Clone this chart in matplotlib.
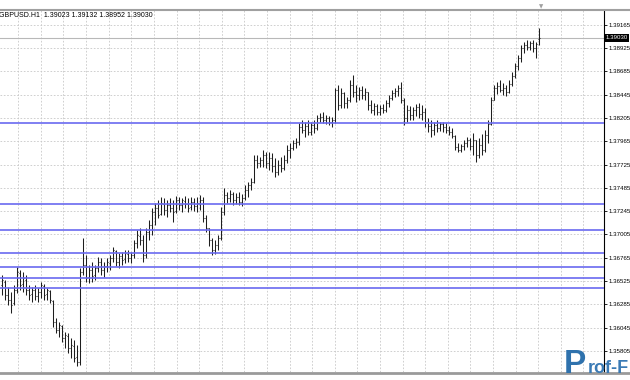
import numpy as np
import matplotlib.pyplot as plt
from matplotlib.lines import Line2D
from matplotlib.transforms import blended_transform_factory

plt.rcParams['font.family'] = ['Liberation Sans', 'DejaVu Sans']

symbol = 'GBPUSD.H1'

# hourly bars
opens = [1.36484, 1.36515, 1.36381, 1.36330, 1.36299, 1.36433, 1.36608, 1.36495, 1.36536, 1.36433,
         1.36392, 1.36433, 1.36371, 1.36412, 1.36474, 1.36392, 1.36423, 1.36320, 1.36103, 1.36021,
         1.36062, 1.35939, 1.35959, 1.35836, 1.35856, 1.35743, 1.35691, 1.36618, 1.36690, 1.36567,
         1.36639, 1.36587, 1.36660, 1.36721, 1.36639, 1.36680, 1.36711, 1.36763, 1.36835, 1.36721,
         1.36783, 1.36752, 1.36804, 1.36763, 1.36793, 1.36917, 1.36989, 1.36948, 1.36793, 1.37030,
         1.37103, 1.37236, 1.37278, 1.37216, 1.37319, 1.37257, 1.37308, 1.37278, 1.37247, 1.37360,
         1.37308, 1.37350, 1.37319, 1.37288, 1.37339, 1.37298, 1.37329, 1.37360, 1.37175, 1.37072,
         1.36948, 1.36845, 1.36896, 1.36969, 1.37236, 1.37411, 1.37381, 1.37422, 1.37360, 1.37391,
         1.37339, 1.37381, 1.37463, 1.37514, 1.37545, 1.37772, 1.37741, 1.37772, 1.37823, 1.37741,
         1.37793, 1.37710, 1.37648, 1.37720, 1.37689, 1.37772, 1.37875, 1.37896, 1.37947, 1.37957,
         1.38112, 1.38081, 1.38122, 1.38060, 1.38132, 1.38102, 1.38205, 1.38215, 1.38184, 1.38205,
         1.38163, 1.38184, 1.38493, 1.38338, 1.38462, 1.38359, 1.38390, 1.38544, 1.38472, 1.38441,
         1.38493, 1.38441, 1.38472, 1.38338, 1.38287, 1.38328, 1.38266, 1.38308, 1.38287, 1.38359,
         1.38411, 1.38462, 1.38483, 1.38514, 1.38390, 1.38205, 1.38287, 1.38235, 1.38287, 1.38318,
         1.38246, 1.38266, 1.38163, 1.38122, 1.38081, 1.38132, 1.38102, 1.38143, 1.38112, 1.38081,
         1.38060, 1.38019, 1.37906, 1.37875, 1.37916, 1.37947, 1.37978, 1.37916, 1.37978, 1.37823,
         1.37927, 1.37875, 1.38029, 1.38143, 1.38390, 1.38514, 1.38534, 1.38493, 1.38514, 1.38472,
         1.38555, 1.38637, 1.38740, 1.38823, 1.38926, 1.38956, 1.38936, 1.38977, 1.38926, 1.39023]

highs = [1.36587, 1.36536, 1.36464, 1.36412, 1.36484, 1.36670, 1.36639, 1.36618, 1.36587, 1.36484,
         1.36464, 1.36484, 1.36454, 1.36515, 1.36495, 1.36454, 1.36433, 1.36330, 1.36144, 1.36103,
         1.36072, 1.36000, 1.35990, 1.35939, 1.35918, 1.35866, 1.36660, 1.36969, 1.36793, 1.36690,
         1.36721, 1.36690, 1.36773, 1.36763, 1.36721, 1.36763, 1.36793, 1.36876, 1.36845, 1.36814,
         1.36824, 1.36845, 1.36845, 1.36824, 1.36948, 1.37051, 1.37072, 1.36999, 1.37072, 1.37154,
         1.37278, 1.37329, 1.37360, 1.37391, 1.37381, 1.37360, 1.37381, 1.37360, 1.37401, 1.37391,
         1.37381, 1.37401, 1.37381, 1.37391, 1.37381, 1.37391, 1.37411, 1.37391, 1.37205, 1.37072,
         1.36969, 1.36948, 1.36999, 1.37288, 1.37484, 1.37442, 1.37463, 1.37442, 1.37432, 1.37442,
         1.37422, 1.37514, 1.37545, 1.37586, 1.37823, 1.37823, 1.37803, 1.37875, 1.37854, 1.37854,
         1.37844, 1.37793, 1.37772, 1.37803, 1.37823, 1.37927, 1.37947, 1.37978, 1.37999, 1.38153,
         1.38184, 1.38163, 1.38184, 1.38163, 1.38184, 1.38235, 1.38256, 1.38266, 1.38235, 1.38225,
         1.38215, 1.38514, 1.38544, 1.38514, 1.38472, 1.38421, 1.38596, 1.38647, 1.38544, 1.38524,
         1.38534, 1.38514, 1.38472, 1.38390, 1.38359, 1.38349, 1.38338, 1.38349, 1.38390, 1.38441,
         1.38493, 1.38514, 1.38544, 1.38575, 1.38411, 1.38338, 1.38328, 1.38318, 1.38349, 1.38359,
         1.38338, 1.38308, 1.38205, 1.38184, 1.38163, 1.38184, 1.38163, 1.38163, 1.38153, 1.38122,
         1.38102, 1.38029, 1.37947, 1.37937, 1.37978, 1.38009, 1.37999, 1.38050, 1.37978, 1.37999,
         1.38040, 1.38081, 1.38184, 1.38421, 1.38544, 1.38575, 1.38596, 1.38565, 1.38544, 1.38596,
         1.38678, 1.38771, 1.38853, 1.38956, 1.38987, 1.39008, 1.38998, 1.39008, 1.38987, 1.39132]

lows = [1.36381, 1.36330, 1.36278, 1.36196, 1.36278, 1.36402, 1.36433, 1.36412, 1.36381, 1.36330,
        1.36309, 1.36330, 1.36309, 1.36351, 1.36330, 1.36330, 1.36299, 1.36052, 1.35990, 1.35949,
        1.35897, 1.35836, 1.35784, 1.35733, 1.35691, 1.35650, 1.35660, 1.36587, 1.36515, 1.36505,
        1.36515, 1.36536, 1.36618, 1.36587, 1.36567, 1.36618, 1.36639, 1.36721, 1.36680, 1.36660,
        1.36690, 1.36711, 1.36721, 1.36711, 1.36763, 1.36866, 1.36896, 1.36721, 1.36763, 1.36948,
        1.36999, 1.37103, 1.37175, 1.37205, 1.37205, 1.37185, 1.37236, 1.37133, 1.37226, 1.37257,
        1.37236, 1.37278, 1.37236, 1.37257, 1.37247, 1.37236, 1.37257, 1.37133, 1.37030, 1.36886,
        1.36793, 1.36804, 1.36845, 1.36948, 1.37205, 1.37329, 1.37339, 1.37308, 1.37319, 1.37308,
        1.37298, 1.37360, 1.37391, 1.37463, 1.37535, 1.37689, 1.37700, 1.37700, 1.37689, 1.37669,
        1.37648, 1.37597, 1.37617, 1.37648, 1.37669, 1.37741, 1.37793, 1.37875, 1.37896, 1.37927,
        1.38050, 1.38009, 1.38029, 1.38029, 1.38050, 1.38081, 1.38163, 1.38153, 1.38143, 1.38132,
        1.38112, 1.38153, 1.38287, 1.38308, 1.38308, 1.38308, 1.38369, 1.38421, 1.38369, 1.38390,
        1.38400, 1.38390, 1.38287, 1.38256, 1.38235, 1.38235, 1.38235, 1.38256, 1.38266, 1.38318,
        1.38390, 1.38421, 1.38431, 1.38359, 1.38132, 1.38163, 1.38184, 1.38184, 1.38225, 1.38205,
        1.38184, 1.38112, 1.38060, 1.38009, 1.38029, 1.38060, 1.38071, 1.38060, 1.38050, 1.38029,
        1.37999, 1.37875, 1.37854, 1.37854, 1.37875, 1.37906, 1.37875, 1.37823, 1.37751, 1.37793,
        1.37823, 1.37854, 1.37947, 1.38132, 1.38390, 1.38451, 1.38472, 1.38441, 1.38431, 1.38462,
        1.38534, 1.38616, 1.38699, 1.38781, 1.38874, 1.38905, 1.38905, 1.38884, 1.38822, 1.38952]

closes = [1.36536, 1.36381, 1.36330, 1.36278, 1.36433, 1.36618, 1.36484, 1.36557, 1.36433, 1.36381,
          1.36433, 1.36371, 1.36412, 1.36484, 1.36381, 1.36433, 1.36330, 1.36103, 1.36021, 1.36072,
          1.35939, 1.35969, 1.35836, 1.35866, 1.35733, 1.35691, 1.36618, 1.36690, 1.36557, 1.36639,
          1.36577, 1.36660, 1.36721, 1.36639, 1.36680, 1.36721, 1.36763, 1.36845, 1.36721, 1.36783,
          1.36742, 1.36814, 1.36763, 1.36793, 1.36917, 1.36999, 1.36948, 1.36793, 1.37030, 1.37103,
          1.37236, 1.37278, 1.37205, 1.37329, 1.37257, 1.37308, 1.37278, 1.37236, 1.37360, 1.37308,
          1.37360, 1.37319, 1.37278, 1.37339, 1.37298, 1.37329, 1.37360, 1.37175, 1.37072, 1.36948,
          1.36845, 1.36896, 1.36969, 1.37236, 1.37411, 1.37381, 1.37422, 1.37360, 1.37391, 1.37339,
          1.37381, 1.37463, 1.37514, 1.37545, 1.37772, 1.37741, 1.37772, 1.37823, 1.37741, 1.37793,
          1.37710, 1.37648, 1.37720, 1.37689, 1.37772, 1.37875, 1.37896, 1.37947, 1.37957, 1.38112,
          1.38081, 1.38122, 1.38060, 1.38132, 1.38102, 1.38205, 1.38215, 1.38184, 1.38205, 1.38163,
          1.38184, 1.38493, 1.38338, 1.38462, 1.38359, 1.38390, 1.38544, 1.38472, 1.38441, 1.38493,
          1.38441, 1.38472, 1.38338, 1.38287, 1.38328, 1.38266, 1.38308, 1.38287, 1.38359, 1.38411,
          1.38462, 1.38483, 1.38514, 1.38390, 1.38205, 1.38287, 1.38235, 1.38287, 1.38318, 1.38246,
          1.38266, 1.38163, 1.38122, 1.38081, 1.38132, 1.38102, 1.38143, 1.38112, 1.38081, 1.38060,
          1.38019, 1.37906, 1.37875, 1.37916, 1.37947, 1.37978, 1.37916, 1.37978, 1.37823, 1.37927,
          1.37875, 1.38029, 1.38143, 1.38390, 1.38514, 1.38534, 1.38493, 1.38514, 1.38472, 1.38555,
          1.38637, 1.38740, 1.38823, 1.38926, 1.38956, 1.38936, 1.38977, 1.38926, 1.38967, 1.39030]

# horizontal support / resistance lines
levels = [1.38156, 1.37316, 1.37048, 1.36811, 1.36673, 1.36560, 1.36457]

price_ticks = [1.39165, 1.38925, 1.38685, 1.38445, 1.38205, 1.37965, 1.37725, 1.37485,
               1.37245, 1.37005, 1.36765, 1.36525, 1.36285, 1.36045, 1.35805]

W, H = 630, 380
fig = plt.figure(figsize=(W / 100, H / 100), dpi=100)
ax = fig.add_axes([0, 1 - 372 / H, 604 / W, 362 / H])

x = np.arange(len(closes))
x0 = -2 / 3
ax.set_xlim(x0, x0 + 604 / 3)
ax.set_ylim(1.35588, 1.39317)

# grid
ax.set_yticks(price_ticks)
ax.set_yticklabels([f'{p:.5f}' for p in price_ticks])
ax.set_xticks(x0 + (18.3 + 22.6 * np.arange(26)) / 3)
ax.grid(True, color='#c8c8c8', linestyle=(0, (2, 2)), linewidth=0.6)
ax.set_axisbelow(True)
ax.yaxis.tick_right()
ax.tick_params(axis='x', length=0, labelbottom=False)
ax.tick_params(axis='y', length=2.5, width=0.6, pad=0.8, labelsize=4.4, colors='black')

for s in ['left', 'top', 'bottom']:
    ax.spines[s].set_visible(False)
ax.spines['right'].set_color('black')
ax.spines['right'].set_linewidth(0.8)

# last price line
ax.axhline(closes[-1], color='#b8b8b8', lw=0.8, zorder=1)

# OHLC bars
bar_col = '#1e1e1e'
ax.vlines(x, lows, highs, color=bar_col, lw=0.75, zorder=2)
ax.hlines(opens, x - 0.45, x, color=bar_col, lw=0.75, zorder=2)
ax.hlines(closes, x, x + 0.45, color=bar_col, lw=0.75, zorder=2)

for lv in levels:
    ax.axhline(lv, color='#6a6af0', lw=1.2, zorder=3)

# header
ax.text(-0.002, 1 - 5 / 362, f'{symbol}  {opens[-1]:.5f} {highs[-1]:.5f} {lows[-1]:.5f} {closes[-1]:.5f}',
        transform=ax.transAxes, fontsize=5, va='center', ha='left')

# current price box
trans = blended_transform_factory(ax.transAxes, ax.transData)
ax.text(1.003, closes[-1], f'{closes[-1]:.5f}', transform=trans, color='white', fontsize=4.4,
        va='center', ha='left', clip_on=False,
        bbox=dict(boxstyle='square,pad=0.2', fc='black', ec='none'))

# frame lines
fig.add_artist(Line2D([0, 1], [1 - 9.5 / H] * 2, color='#a0a0a0', lw=1.5, transform=fig.transFigure))
fig.add_artist(Line2D([0, 1], [1 - 373 / H] * 2, color='#9a9a9a', lw=2, transform=fig.transFigure))
fig.text(541 / W, 1 - 7 / H, '▼', fontsize=4, color='#a0a0a0', ha='center', va='center',
         family='DejaVu Sans')

# watermark
fig.text(564 / W, 1 - 373 / H, 'P', fontsize=24, weight='bold', color='#2f72ad', va='baseline')
fig.text(588 / W, 1 - 373 / H, 'rof-F', fontsize=13, weight='bold', color='#3a7ab5', va='baseline')

fig.savefig('out.png', dpi=100)
